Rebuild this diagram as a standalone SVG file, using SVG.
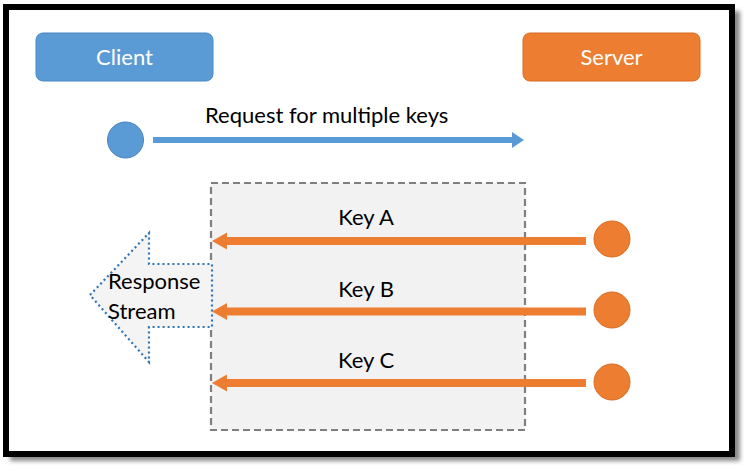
<svg xmlns="http://www.w3.org/2000/svg" width="747" height="471" viewBox="0 0 747 471">
  <defs>
    <style>
      .lbl { font-family: Lato, "Open Sans", "Liberation Sans", sans-serif; font-size: 22px; fill: #000; }
      .btn { font-family: Lato, "Open Sans", "Liberation Sans", sans-serif; font-size: 22px; fill: #fff; text-anchor: middle; }
      .blue { fill: #5B9BD5; stroke: #4A86C0; stroke-width: 1; }
      .orange { fill: #ED7D31; stroke: #D76A22; stroke-width: 1; }
      .oarrow { fill: #ED7D31; }
    </style>
    <filter id="blur" x="-5%" y="-5%" width="110%" height="110%">
      <feGaussianBlur stdDeviation="2"/>
    </filter>
  </defs>
  <rect width="747" height="471" fill="#fff"/>
  <!-- frame shadow -->
  <rect x="10" y="11" width="730" height="450" fill="#8a8a8a" filter="url(#blur)"/>
  <rect x="6" y="7" width="726" height="447" fill="#fff" stroke="#000" stroke-width="6"/>

  <g id="response-box">
    <rect x="211" y="183" width="314" height="247" fill="#F2F2F2" stroke="#7F7F7F" stroke-width="2.2" stroke-dasharray="7,4"/>
  </g>

  <g id="client">
    <rect class="blue" x="36" y="33" width="177" height="48" rx="7"/>
    <text class="btn" x="124.5" y="64.5">Client</text>
  </g>
  <g id="server">
    <rect class="orange" x="523" y="33" width="177" height="48" rx="7"/>
    <text class="btn" x="611.5" y="64.5">Server</text>
  </g>

  <g id="client-dot"><circle class="blue" cx="125.5" cy="140" r="18"/></g>
  <g id="server-dot-a"><circle class="orange" cx="612" cy="239" r="18"/></g>
  <g id="server-dot-b"><circle class="orange" cx="612" cy="310" r="18"/></g>
  <g id="server-dot-c"><circle class="orange" cx="612" cy="382" r="18"/></g>

  <g id="response-stream">
    <path d="M90,295 L149,233 L149,264 L212,264 L212,327 L149,327 L149,362 Z" fill="#F4F4F4" stroke="#2E75B6" stroke-width="2.2" stroke-dasharray="2,3"/>
    <text class="lbl" x="108" y="289">Response</text>
    <text class="lbl" x="108" y="319">Stream</text>
  </g>

  <g id="connectors">
    <path d="M153,137 L512,137 L512,132 L524,140 L512,148 L512,143 L153,143 Z" fill="#5B9BD5"/>
    <path class="oarrow" d="M586,237 L227,237 L227,232.5 L212,241 L227,249.5 L227,245 L586,245 Z"/>
    <path class="oarrow" d="M586,307.5 L227,307.5 L227,303 L212,311.5 L227,320 L227,315.5 L586,315.5 Z"/>
    <path class="oarrow" d="M586,379 L227,379 L227,374.5 L212,383 L227,391.5 L227,387 L586,387 Z"/>
  </g>

  <g id="labels">
    <text class="lbl" x="205" y="123">Request for multiple keys</text>
    <text class="lbl" x="366" y="225" text-anchor="middle">Key A</text>
    <text class="lbl" x="366" y="297" text-anchor="middle">Key B</text>
    <text class="lbl" x="366" y="368" text-anchor="middle">Key C</text>
  </g>
</svg>
